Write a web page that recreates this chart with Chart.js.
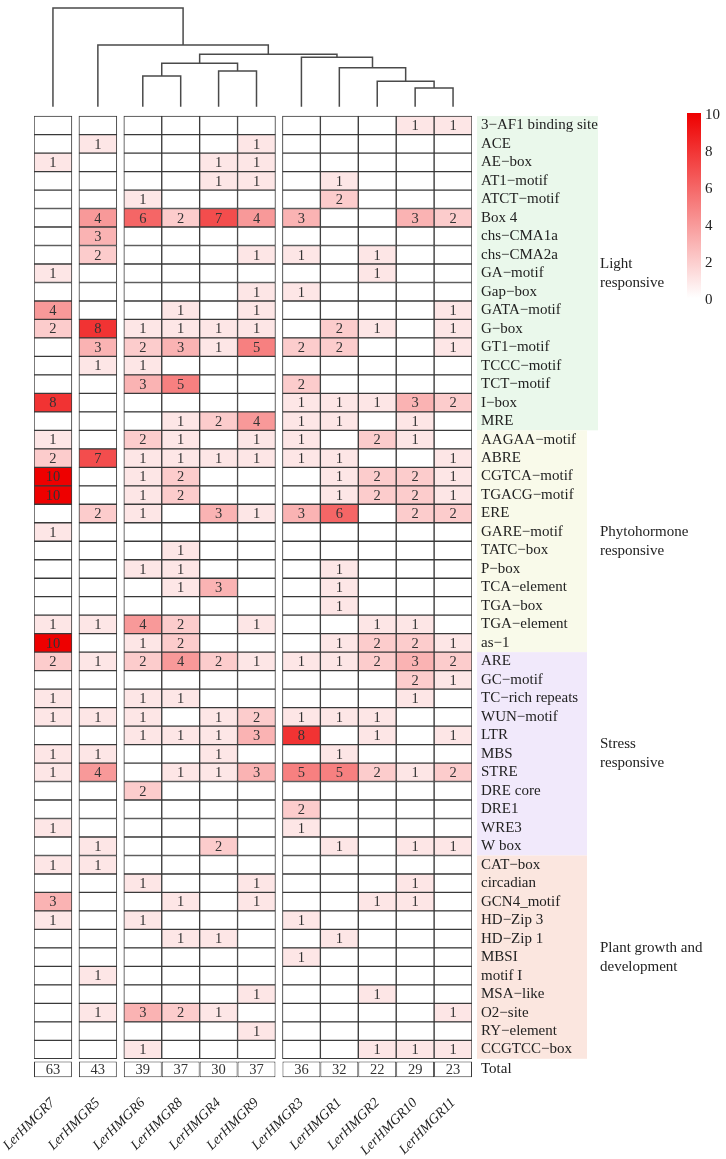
<!DOCTYPE html>
<html>
<head>
<meta charset="utf-8">
<script src="https://cdn.jsdelivr.net/npm/chart.js@4.4.0/dist/chart.umd.min.js"></script>
<style>
  body { margin: 0; background: #fff; }
  #wrap { width: 726px; height: 1159px; }
</style>
</head>
<body>
<div id="wrap"><canvas id="chart-heatmap" width="726" height="1159"></canvas></div>
<script>
// gene order follows the dendrogram (left to right)
const genes = ["LerHMGR7", "LerHMGR5", "LerHMGR6", "LerHMGR8", "LerHMGR4", "LerHMGR9",
  "LerHMGR3", "LerHMGR1", "LerHMGR2", "LerHMGR10", "LerHMGR11"];

const lightMotifs = ["3−AF1 binding site", "ACE", "AE−box", "AT1−motif", "ATCT−motif", "Box 4",
  "chs−CMA1a", "chs−CMA2a", "GA−motif", "Gap−box", "GATA−motif", "G−box", "GT1−motif",
  "TCCC−motif", "TCT−motif", "I−box", "MRE"];
const lightCounts = [
  [0, 0, 0, 0, 0, 0, 0, 0, 0, 1, 1],
  [0, 1, 0, 0, 0, 1, 0, 0, 0, 0, 0],
  [1, 0, 0, 0, 1, 1, 0, 0, 0, 0, 0],
  [0, 0, 0, 0, 1, 1, 0, 1, 0, 0, 0],
  [0, 0, 1, 0, 0, 0, 0, 2, 0, 0, 0],
  [0, 4, 6, 2, 7, 4, 3, 0, 0, 3, 2],
  [0, 3, 0, 0, 0, 0, 0, 0, 0, 0, 0],
  [0, 2, 0, 0, 0, 1, 1, 0, 1, 0, 0],
  [1, 0, 0, 0, 0, 0, 0, 0, 1, 0, 0],
  [0, 0, 0, 0, 0, 1, 1, 0, 0, 0, 0],
  [4, 0, 0, 1, 0, 1, 0, 0, 0, 0, 1],
  [2, 8, 1, 1, 1, 1, 0, 2, 1, 0, 1],
  [0, 3, 2, 3, 1, 5, 2, 2, 0, 0, 1],
  [0, 1, 1, 0, 0, 0, 0, 0, 0, 0, 0],
  [0, 0, 3, 5, 0, 0, 2, 0, 0, 0, 0],
  [8, 0, 0, 0, 0, 0, 1, 1, 1, 3, 2],
  [0, 0, 0, 1, 2, 4, 1, 1, 0, 1, 0],
];

const hormoneMotifs = ["AAGAA−motif", "ABRE", "CGTCA−motif", "TGACG−motif", "ERE", "GARE−motif",
  "TATC−box", "P−box", "TCA−element", "TGA−box", "TGA−element", "as−1"];
const hormoneCounts = [
  [1, 0, 2, 1, 0, 1, 1, 0, 2, 1, 0],
  [2, 7, 1, 1, 1, 1, 1, 1, 0, 0, 1],
  [10, 0, 1, 2, 0, 0, 0, 1, 2, 2, 1],
  [10, 0, 1, 2, 0, 0, 0, 1, 2, 2, 1],
  [0, 2, 1, 0, 3, 1, 3, 6, 0, 2, 2],
  [1, 0, 0, 0, 0, 0, 0, 0, 0, 0, 0],
  [0, 0, 0, 1, 0, 0, 0, 0, 0, 0, 0],
  [0, 0, 1, 1, 0, 0, 0, 1, 0, 0, 0],
  [0, 0, 0, 1, 3, 0, 0, 1, 0, 0, 0],
  [0, 0, 0, 0, 0, 0, 0, 1, 0, 0, 0],
  [1, 1, 4, 2, 0, 1, 0, 0, 1, 1, 0],
  [10, 0, 1, 2, 0, 0, 0, 1, 2, 2, 1],
];

const stressMotifs = ["ARE", "GC−motif", "TC−rich repeats", "WUN−motif", "LTR", "MBS", "STRE",
  "DRE core", "DRE1", "WRE3", "W box"];
const stressCounts = [
  [2, 1, 2, 4, 2, 1, 1, 1, 2, 3, 2],
  [0, 0, 0, 0, 0, 0, 0, 0, 0, 2, 1],
  [1, 0, 1, 1, 0, 0, 0, 0, 0, 1, 0],
  [1, 1, 1, 0, 1, 2, 1, 1, 1, 0, 0],
  [0, 0, 1, 1, 1, 3, 8, 0, 1, 0, 1],
  [1, 1, 0, 0, 1, 0, 0, 1, 0, 0, 0],
  [1, 4, 0, 1, 1, 3, 5, 5, 2, 1, 2],
  [0, 0, 2, 0, 0, 0, 0, 0, 0, 0, 0],
  [0, 0, 0, 0, 0, 0, 2, 0, 0, 0, 0],
  [1, 0, 0, 0, 0, 0, 1, 0, 0, 0, 0],
  [0, 1, 0, 0, 2, 0, 0, 1, 0, 1, 1],
];

const growthMotifs = ["CAT−box", "circadian", "GCN4_motif", "HD−Zip 3", "HD−Zip 1", "MBSI",
  "motif I", "MSA−like", "O2−site", "RY−element", "CCGTCC−box"];
const growthCounts = [
  [1, 1, 0, 0, 0, 0, 0, 0, 0, 0, 0],
  [0, 0, 1, 0, 0, 1, 0, 0, 0, 1, 0],
  [3, 0, 0, 1, 0, 1, 0, 0, 1, 1, 0],
  [1, 0, 1, 0, 0, 0, 1, 0, 0, 0, 0],
  [0, 0, 0, 1, 1, 0, 0, 1, 0, 0, 0],
  [0, 0, 0, 0, 0, 0, 1, 0, 0, 0, 0],
  [0, 1, 0, 0, 0, 0, 0, 0, 0, 0, 0],
  [0, 0, 0, 0, 0, 1, 0, 0, 1, 0, 0],
  [0, 1, 3, 2, 1, 0, 0, 0, 0, 0, 1],
  [0, 0, 0, 0, 0, 1, 0, 0, 0, 0, 0],
  [0, 0, 1, 0, 0, 0, 0, 0, 1, 1, 1],
];

const totals = [63, 43, 39, 37, 30, 37, 36, 32, 22, 29, 23];
const colorbarTicks = [0, 2, 4, 6, 8, 10];

// hclust style merges: negative = leaf (1-based column), positive = earlier merge
const dendroMerges = [[-10, -11], [-9, 1], [-3, -4], [-5, -6], [-8, 2], [3, 4], [-7, 5], [6, 7], [-2, 8], [-1, 9]];
const dendroHeights = [18.7, 25.4, 30.7, 35.7, 39.0, 43.4, 49.4, 52.4, 61.7, 98.7];

const groups = [
  { title: ["Light", "responsive"], motifs: lightMotifs, bg: "#eaf8eb", right: 598 },
  { title: ["Phytohormone", "responsive"], motifs: hormoneMotifs, bg: "#f9faea", right: 587 },
  { title: ["Stress", "responsive"], motifs: stressMotifs, bg: "#f1e9fb", right: 587 },
  { title: ["Plant growth and", "development"], motifs: growthMotifs, bg: "#fbe6df", right: 587 },
];

const motifs = [...lightMotifs, ...hormoneMotifs, ...stressMotifs, ...growthMotifs];
const counts = [...lightCounts, ...hormoneCounts, ...stressCounts, ...growthCounts];

const SERIF = "'Liberation Serif', 'DejaVu Serif', serif";
const GAP = 0.185; // space between the clusters of columns
const colStart = (j) => j + GAP * ((j >= 1) + (j >= 2) + (j >= 6));
const X_MAX = colStart(genes.length - 1) + 1;
const TOTAL_Y = motifs.length + 0.575;
const yTicks = motifs.map((m, i) => i + 0.5).concat([TOTAL_Y]);
const yLabels = motifs.concat(["Total"]);

function heat(v) {
  const t = Math.min(v, 10) / 10;
  const r = Math.round(255 - 17 * t);
  const g = Math.round(255 * (1 - t));
  return `rgb(${r},${g},${g})`;
}

const datasets = genes.map((g, j) => ({
  label: g,
  data: counts.map((row, i) => ({ y: i + 0.5, x: [colStart(j), colStart(j) + 1] })),
  backgroundColor: counts.map((row) => heat(row[j])),
  barPercentage: 1,
}));
datasets.push({
  label: "Total",
  data: genes.map((g, j) => ({ y: TOTAL_Y, x: [colStart(j), colStart(j) + 1] })),
  backgroundColor: "#ffffff",
  barPercentage: 0.85,
});

// category backgrounds behind the motif names
const groupBackground = {
  id: "groupBackground",
  beforeDraw(chart) {
    const { ctx, scales: { y } } = chart;
    ctx.save();
    ctx.fillStyle = "#fff";
    ctx.fillRect(0, 0, chart.width, chart.height);
    let start = 0;
    groups.forEach((grp) => {
      const y0 = y.getPixelForValue(start);
      const y1 = y.getPixelForValue(start + grp.motifs.length);
      ctx.fillStyle = grp.bg;
      ctx.fillRect(477, y0, grp.right - 477, y1 - y0);
      start += grp.motifs.length;
    });
    ctx.restore();
  },
};

// numbers inside the cells
const cellText = {
  id: "cellText",
  afterDatasetsDraw(chart) {
    const { ctx } = chart;
    ctx.save();
    ctx.font = `14.5px ${SERIF}`;
    ctx.fillStyle = "#333";
    ctx.textAlign = "center";
    ctx.textBaseline = "middle";
    chart.data.datasets.forEach((ds, d) => {
      chart.getDatasetMeta(d).data.forEach((bar, i) => {
        const v = d < genes.length ? counts[i][d] : totals[i];
        if (v > 0) ctx.fillText(String(v), (bar.x + bar.base) / 2, bar.y + 1);
      });
    });
    ctx.restore();
  },
};

// dendrogram, group titles and colour key
const extras = {
  id: "extras",
  afterDraw(chart) {
    const { ctx, chartArea, scales: { x, y } } = chart;
    ctx.save();

    const maxH = Math.max(...dendroHeights);
    const hPix = (h) => chartArea.top - (h / maxH) * (chartArea.top - 8);
    const nodeX = [];
    const nodeY = [];
    const pos = (n) => (n < 0
      ? [x.getPixelForValue(colStart(-n - 1) + 0.5), chartArea.top]
      : [nodeX[n - 1], nodeY[n - 1]]);
    ctx.strokeStyle = "#4a4a4a";
    ctx.lineWidth = 1.5;
    dendroMerges.forEach(([a, b], k) => {
      const [xa, ya] = pos(a);
      const [xb, yb] = pos(b);
      const ym = hPix(dendroHeights[k]);
      ctx.beginPath();
      ctx.moveTo(xa, ya);
      ctx.lineTo(xa, ym);
      ctx.lineTo(xb, ym);
      ctx.lineTo(xb, yb);
      ctx.stroke();
      nodeX.push((xa + xb) / 2);
      nodeY.push(ym);
    });

    ctx.font = `15px ${SERIF}`;
    ctx.fillStyle = "#222";
    ctx.textAlign = "left";
    ctx.textBaseline = "middle";
    let start = 0;
    groups.forEach((grp) => {
      const mid = y.getPixelForValue(start + grp.motifs.length / 2);
      ctx.fillText(grp.title[0], 600, mid - 9.5);
      ctx.fillText(grp.title[1], 600, mid + 9.5);
      start += grp.motifs.length;
    });

    const top = 113, bottom = 298;
    const grad = ctx.createLinearGradient(0, bottom, 0, top);
    grad.addColorStop(0, heat(0));
    grad.addColorStop(1, heat(10));
    ctx.fillStyle = grad;
    ctx.fillRect(687, top, 14, bottom - top);
    ctx.fillStyle = "#222";
    colorbarTicks.forEach((v) => {
      ctx.fillText(String(v), 705, bottom - (v / 10) * (bottom - top) + 2);
    });
    ctx.restore();
  },
};

const ctx = document.getElementById("chart-heatmap").getContext("2d");
new Chart(ctx, {
  type: "bar",
  data: { datasets },
  options: {
    indexAxis: "y",
    responsive: false,
    devicePixelRatio: 1,
    animation: false,
    layout: { padding: { left: 34, top: 106.7, right: 0, bottom: 0 } },
    datasets: {
      bar: {
        grouped: false,
        categoryPercentage: 1,
        borderColor: "#3a3a3a",
        borderWidth: 1,
        borderSkipped: false,
      },
    },
    plugins: {
      legend: { display: false },
      tooltip: { enabled: false },
    },
    scales: {
      x: {
        type: "linear",
        position: "bottom",
        min: 0,
        max: X_MAX,
        bounds: "data",
        grid: { display: false, drawTicks: false },
        border: { display: false },
        afterBuildTicks: (scale) => {
          scale.ticks = genes.map((g, j) => ({ value: colStart(j) + 0.5 }));
        },
        afterFit: (scale) => {
          scale.height = 72.3;
          scale.paddingLeft = 0;
          scale.paddingRight = 0;
        },
        ticks: {
          autoSkip: false,
          maxRotation: 45,
          minRotation: 45,
          padding: 8,
          color: "#222",
          font: { family: SERIF, size: 14, style: "italic" },
          callback: (value, index) => genes[index],
        },
      },
      y: {
        type: "linear",
        position: "right",
        reverse: true,
        min: 0,
        max: motifs.length + 1,
        bounds: "data",
        grid: { display: false, drawTicks: false },
        border: { display: false },
        afterBuildTicks: (scale) => {
          scale.ticks = yTicks.map((v) => ({ value: v }));
        },
        afterFit: (scale) => {
          scale.width = 254;
          scale.paddingTop = 0;
          scale.paddingBottom = 0;
        },
        ticks: {
          autoSkip: false,
          padding: 9,
          color: "#222",
          font: { family: SERIF, size: 15 },
          callback: (value, index) => yLabels[index],
        },
      },
    },
  },
  plugins: [groupBackground, cellText, extras],
});
</script>
</body>
</html>
